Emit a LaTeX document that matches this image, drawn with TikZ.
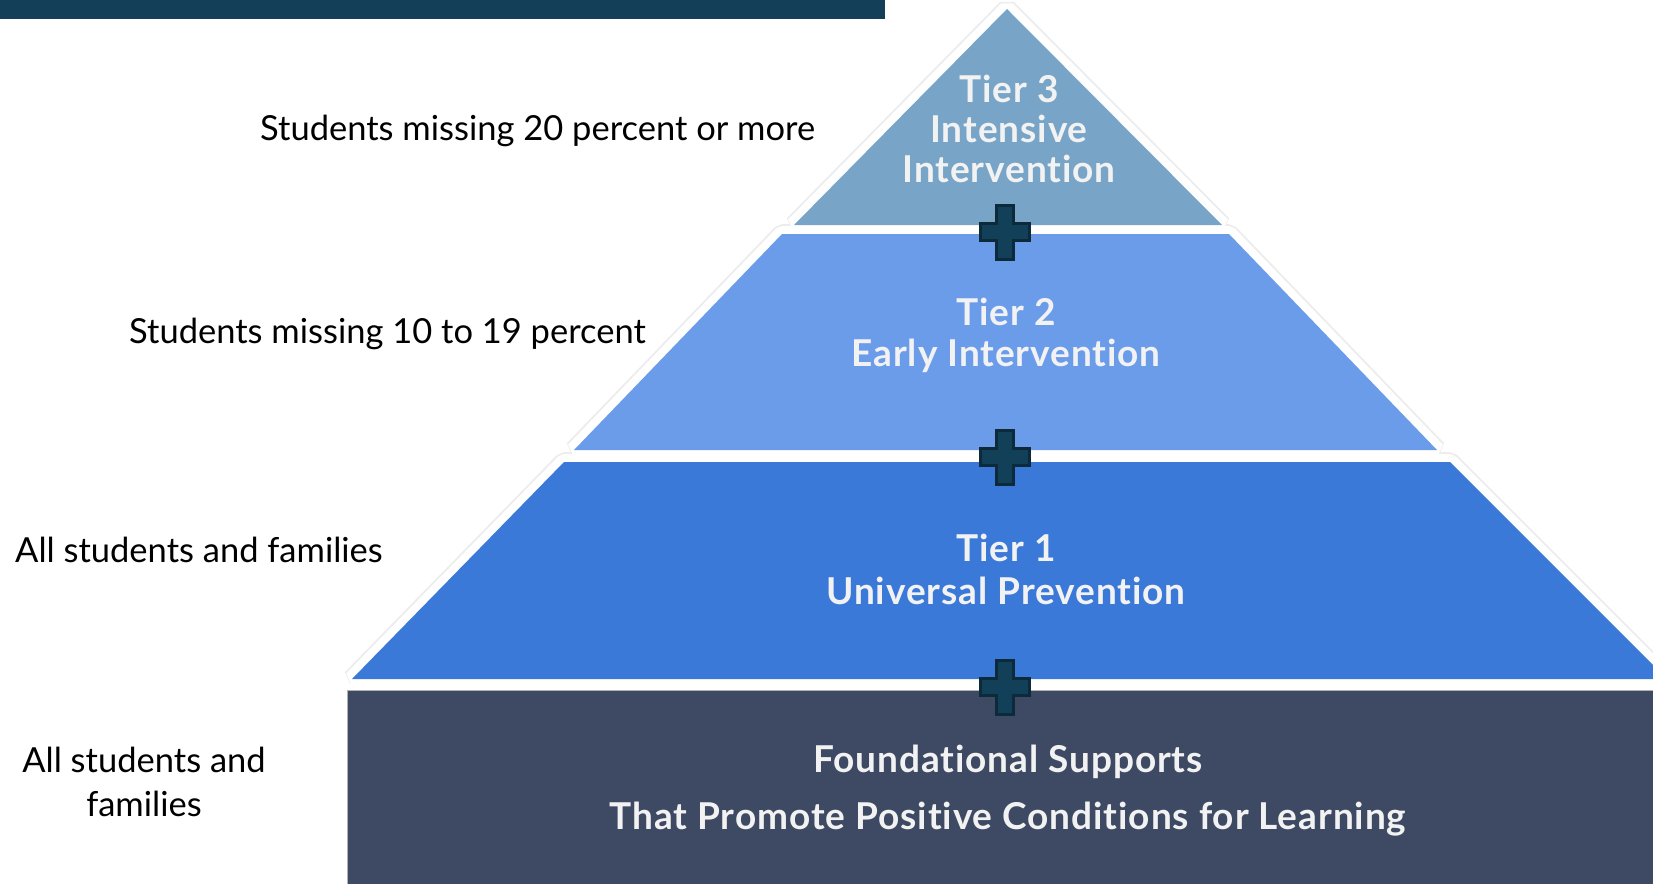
\documentclass[tikz,border=0pt]{standalone}
\usepackage{fontspec}
\setmainfont[Ligatures=NoCommon]{Lato}
\newfontfamily\tierfont[LetterSpace=2.5,Ligatures=NoCommon]{Lato}
\definecolor{barblue}{HTML}{143F58}
\definecolor{tierthree}{HTML}{78A5C7}
\definecolor{tiertwo}{HTML}{6B9CEA}
\definecolor{tierone}{HTML}{3B79D9}
\definecolor{foundcol}{HTML}{3E4A64}
\definecolor{plusfill}{HTML}{134059}
\definecolor{plusedge}{HTML}{0C2A3A}
\definecolor{tiertext}{HTML}{F2F2F2}
\begin{document}
\begin{tikzpicture}[x=1pt,y=-1pt,
  shadowline/.style={draw=black!7, line width=20pt, line join=bevel},
  whiteline/.style={draw=white, line width=16pt, line join=bevel},
  plusstyle/.style={fill=plusfill, draw=plusedge, line width=3pt, line join=miter},
  plussign/.pic={\path[plusstyle] (-8.5,-27) -- (8.5,-27) -- (8.5,-8.5) -- (24.5,-8.5) -- (24.5,8.5) -- (8.5,8.5) -- (8.5,27) -- (-8.5,27) -- (-8.5,8.5) -- (-24.5,8.5) -- (-24.5,-8.5) -- (-8.5,-8.5) -- cycle;},
  sidelabel/.style={text=black, font=\fontsize{34.5}{44}\selectfont, inner sep=0pt, align=center},
  tierlabel/.style={text=tiertext, font=\tierfont\bfseries\fontsize{37}{40}\selectfont, inner sep=0pt, align=center}]
\useasboundingbox (0,0) rectangle (1653,883);
\begin{scope}
\clip (0,0) rectangle (1653,883);
% top bar
\fill[barblue] (0,0) rectangle (885,19.5);
% layer outlines
\path[shadowline] (1007,9) -- (1222,225) -- (794,225) -- cycle;
\path[shadowline] (782,234) -- (1229,234) -- (1437,450) -- (574,450) -- cycle;
\path[shadowline] (564,462) -- (1450,462) -- (1667,679) -- (352,679) -- cycle;
\path[whiteline] (1007,9) -- (1222,225) -- (794,225) -- cycle;
\path[whiteline] (782,234) -- (1229,234) -- (1437,450) -- (574,450) -- cycle;
\path[whiteline] (564,462) -- (1450,462) -- (1667,679) -- (352,679) -- cycle;
% layer fills
\fill[tierthree] (1007,9) -- (1222,225) -- (794,225) -- cycle;
\fill[tiertwo] (782,234) -- (1229,234) -- (1437,450) -- (574,450) -- cycle;
\fill[tierone] (564,462) -- (1450,462) -- (1667,679) -- (352,679) -- cycle;
% foundation
\fill[white] (337,684) rectangle (1660,890);
\path[fill=foundcol, draw=black!30, line width=1pt] (347,690) rectangle (1670,900);
% plus signs
\pic at (1005,232) {plussign};
\pic at (1005,457) {plussign};
\pic at (1005,687) {plussign};
\end{scope}
% tier labels
\node[tierlabel] (t3) at (1009,129) {Tier 3\\Intensive\\Intervention};
\node[tierlabel, font=\tierfont\bfseries\fontsize{37}{41}\selectfont] (t2) at (1006,335) {Tier 2\\Early Intervention};
\node[tierlabel, font=\tierfont\bfseries\fontsize{37}{43}\selectfont] (t1) at (1006,569) {Tier 1\\Universal Prevention};
\node[tierlabel, font=\tierfont\bfseries\fontsize{37}{57}\selectfont] (fs) at (1008,791) {Foundational Supports\\That Promote Positive Conditions for Learning};
% side labels
\node[sidelabel, anchor=west] (s3) at (260,131) {Students missing 20 percent or more};
\node[sidelabel, anchor=west] (s2) at (129,334) {Students missing 10 to 19 percent};
\node[sidelabel, anchor=west] (s1) at (15,550) {All students and families};
\node[sidelabel] (s0) at (144,782) {All students and\\families};
\end{tikzpicture}
\end{document}
